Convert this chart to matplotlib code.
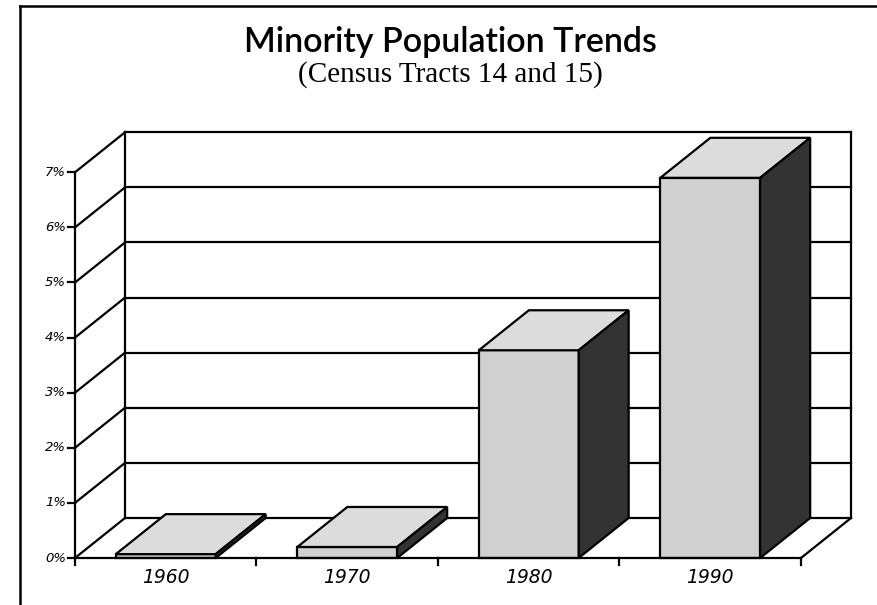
import numpy as np
import matplotlib
matplotlib.use("Agg")
import matplotlib.pyplot as plt
from matplotlib.patches import Polygon

years = ["1960", "1970", "1980", "1990"]
share = [0.07, 0.2, 3.77, 6.9]          # percent of population
yticks = [0, 1, 2, 3, 4, 5, 6, 7]
ytick_labels = [f"{v}%" for v in yticks]

W, H = 878, 605
fig = plt.figure(figsize=(W / 100, H / 100), dpi=100)

# pixel layout of the front plane: x=0..4 -> 75..801, y=0..7 -> 558..172
px0, px_per = 75.0, 181.5
py0, py_per = 558.0, 55.1
xlim = (-0.45, 4.75)
ylim = (-1.0, 8.4)
left = (px0 + px_per * xlim[0]) / W
width = px_per * (xlim[1] - xlim[0]) / W
bottom = (H - (py0 - py_per * ylim[0])) / H
height = py_per * (ylim[1] - ylim[0]) / H
ax = fig.add_axes([left, bottom, width, height])
ax.set_xlim(*xlim)
ax.set_ylim(*ylim)
ax.axis("off")

# depth offset of the 3d box
dx, dy = 50 / px_per, 40 / py_per
n = len(years)
top = yticks[-1]
lw = 1.6

# back wall gridlines and left wall slants
for v in yticks:
    ax.plot([dx, n + dx], [v + dy, v + dy], c="k", lw=lw, zorder=1)
    ax.plot([0, dx], [v, v + dy], c="k", lw=lw, zorder=1)
ax.plot([dx, dx], [dy, top + dy], c="k", lw=lw, zorder=1)
ax.plot([n + dx, n + dx], [dy, top + dy], c="k", lw=lw, zorder=1)
ax.plot([n, n + dx], [0, dy], c="k", lw=lw, zorder=1)

# bars
bw = 0.55
for i, h in enumerate(share):
    c = i + 0.5
    x0, x1 = c - bw / 2, c + bw / 2
    front = Polygon([(x0, 0), (x1, 0), (x1, h), (x0, h)],
                    fc="#d0d0d0", ec="k", lw=lw, zorder=3)
    lid = Polygon([(x0, h), (x1, h), (x1 + dx, h + dy), (x0 + dx, h + dy)],
                  fc="#dcdcdc", ec="k", lw=lw, zorder=3)
    side = Polygon([(x1, 0), (x1 + dx, dy), (x1 + dx, h + dy), (x1, h)],
                   fc="#333333", ec="k", lw=lw, zorder=3)
    for p in (front, lid, side):
        ax.add_patch(p)

# front axes
ax.plot([0, 0], [-0.12, top], c="k", lw=lw, zorder=4)
ax.plot([0, n], [0, 0], c="k", lw=lw, zorder=4)
for v, lab in zip(yticks, ytick_labels):
    ax.plot([-0.04, 0], [v, v], c="k", lw=lw, zorder=4)
    ax.text(-0.05, v, lab, ha="right", va="center", fontsize=9.5,
            style="italic", family="DejaVu Sans")
for k in range(1, n + 1):
    ax.plot([k, k], [0, -0.12], c="k", lw=lw, zorder=4)
for i, lab in enumerate(years):
    ax.text(i + 0.5, -0.35, lab, ha="center", va="center", fontsize=13.5,
            style="italic", family="DejaVu Sans")

# page frame (left and top edges of the scanned box)
fig.add_artist(plt.Line2D([20 / W, 20 / W], [0, 1 - 6 / H], c="k", lw=1.8))
fig.add_artist(plt.Line2D([20 / W, 1], [1 - 6 / H, 1 - 6 / H], c="k", lw=1.8))

fig.text(450 / W, 1 - 42 / H, "Minority Population Trends", ha="center",
         va="center", fontsize=24.5, weight="semibold", family="Lato")
fig.text(450 / W, 1 - 75 / H, "(Census Tracts 14 and 15)", ha="center",
         va="center", fontsize=21, family="Liberation Serif")

fig.savefig("out.png", dpi=100)
